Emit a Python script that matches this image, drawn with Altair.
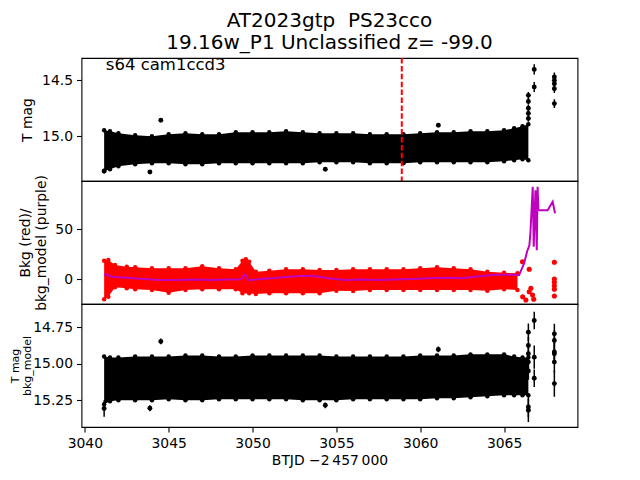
import altair as alt
import pandas as pd

# ---------------- values ----------------
# dense light-curve band (upper / lower envelope), days in BTJD-2457000
band_days = [3041.15, 3041.5, 3042, 3043, 3044, 3045, 3046, 3047, 3048, 3049, 3050,
             3051, 3052, 3053, 3054, 3055, 3056, 3057, 3058, 3059, 3060, 3061, 3062,
             3063, 3064, 3065, 3065.6, 3066.1, 3066.45]
tmag_hi = [14.946, 14.955, 14.973, 14.991, 15.000, 14.982, 14.973, 14.982, 14.982, 14.964,
           14.964, 14.964, 14.955, 14.964, 14.973, 14.973, 14.973, 14.982, 14.982, 14.982,
           14.973, 14.964, 14.964, 14.955, 14.955, 14.946, 14.929, 14.911, 14.893]
tmag_lo = [15.313, 15.295, 15.268, 15.250, 15.241, 15.241, 15.250, 15.250, 15.241, 15.241,
           15.241, 15.241, 15.241, 15.241, 15.232, 15.232, 15.232, 15.241, 15.241, 15.241,
           15.232, 15.232, 15.232, 15.232, 15.232, 15.223, 15.214, 15.205, 15.214]
diff_hi = [14.950, 14.957, 14.957, 14.950, 14.950, 14.950, 14.943, 14.943, 14.950, 14.950,
           14.943, 14.943, 14.943, 14.943, 14.943, 14.950, 14.950, 14.950, 14.950, 14.950,
           14.943, 14.943, 14.943, 14.936, 14.936, 14.936, 14.950, 14.957, 14.957]
diff_lo = [15.279, 15.258, 15.251, 15.251, 15.251, 15.245, 15.251, 15.251, 15.245, 15.245,
           15.245, 15.245, 15.245, 15.251, 15.251, 15.251, 15.245, 15.245, 15.245, 15.245,
           15.245, 15.238, 15.238, 15.231, 15.224, 15.217, 15.217, 15.217, 15.217]

# isolated points
pt_days = [3041.15, 3043.88, 3044.53, 3054.34, 3061.08,
           3066.45, 3066.45, 3066.45, 3066.45, 3066.45, 3066.8, 3066.8,
           3068.0, 3068.0, 3068.0, 3068.0, 3068.0]
pt_tmag = [15.310, 15.319, 14.857, 15.295, 14.902,
           14.634, 14.688, 14.750, 14.795, 14.840, 14.402, 14.560,
           14.470, 14.500, 14.530, 14.574, 14.708]
pt_tmag_err = [0.02, 0.01, 0.01, 0.01, 0.01,
               0.03, 0.03, 0.03, 0.03, 0.03, 0.045, 0.045,
               0.04, 0.04, 0.04, 0.04, 0.04]

pt3_days = [3041.15, 3043.88, 3044.53, 3054.34, 3061.08,
            3066.45, 3066.45, 3066.45, 3066.45, 3066.45, 3066.45, 3066.45,
            3066.8, 3066.8, 3066.8,
            3068.0, 3068.0, 3068.0, 3068.0, 3068.0, 3068.0]
pt3_mag = [15.308, 15.306, 14.847, 15.286, 14.902,
           14.784, 14.875, 14.932, 14.989, 15.050, 15.297, 15.320,
           14.703, 14.955, 15.100,
           14.795, 14.840, 14.920, 14.932, 14.989, 15.137]
pt3_err = [0.057, 0.02, 0.02, 0.02, 0.02,
           0.06, 0.06, 0.06, 0.06, 0.06, 0.07, 0.08,
           0.06, 0.08, 0.06,
           0.07, 0.07, 0.07, 0.07, 0.07, 0.09]

# background (red) band and loose red points
bkg_days = [3041.15, 3041.4, 3041.8, 3042.5, 3043, 3044, 3045, 3046, 3047, 3048, 3049,
            3049.4, 3049.6, 3049.8, 3050.2, 3051, 3052, 3053, 3054, 3055, 3056, 3057,
            3058, 3059, 3060, 3061, 3062, 3063, 3064, 3065, 3065.8]
bkg_hi = [18.6, 19.3, 14.3, 12.6, 12, 11, 11, 11, 13, 11, 10,
          18.6, 20, 17.6, 7.6, 8.6, 10, 10, 9.3, 9.3, 10, 10,
          10, 10, 11, 12, 11, 10, 7.6, 6.6, 6]
bkg_lo = [-20, -17.4, -8, -9, -10, -10.7, -13.4, -10.7, -10, -10, -10,
          -14, -12, -14, -14.7, -14, -14, -14, -14, -11.4, -11.7, -10.7,
          -10.7, -10.7, -10.7, -10.7, -10.7, -10.7, -11.4, -10, -10.7]
bkg_pt_days = [3066.1, 3066.5, 3066.11, 3066.3, 3066.5, 3066.6, 3066.7, 3066.77,
               3068.0, 3068.0, 3068.0, 3068.0, 3068.0, 3068.0]
bkg_pt_vals = [17.6, 10, -17.4, -20.7, -12.4, -9, -15.7, -20,
               17, 0.3, -3, -6.4, -10, -16.7]

# background model (purple line)
model_days = [3041.15, 3041.25, 3041.6, 3042.5, 3043.5, 3044.5, 3045.5, 3046.5, 3047.5,
              3048.5, 3049.3, 3049.55, 3049.75, 3050.5, 3051.5, 3052.5, 3053.5, 3054,
              3054.5, 3055.5, 3056.5, 3057.5, 3058.5, 3059.5, 3060.5, 3061.5, 3062.5,
              3063.5, 3064.5, 3065.5, 3065.9, 3066.2, 3066.37, 3066.51, 3066.57, 3066.71,
              3066.77, 3066.87, 3066.95, 3067.0, 3067.05, 3067.6, 3067.9, 3068.04]
model_vals = [4.3, 5, 2.6, 1.6, 0.3, -0.7, -0.7, -0.3, -0.7,
              -0.3, 0, 5, -1, 0.3, 1.6, 3, 3.5, 2.6,
              1, -0.7, -0.3, -0.7, -0.3, 0.3, 1, 1.6, 1,
              3, 4.6, 4.6, 4.3, 16, 27.6, 34, 46, 92.6,
              32.6, 89, 29, 92.6, 69, 69, 77.6, 66]

marker_day = [3058.9]
label_day = [3041.25]
label_mag = [14.411]
label_text = ["s64 cam1ccd3"]

x_ticks = [3040, 3045, 3050, 3055, 3060, 3065]

# ---------------- tables ----------------
band_df = pd.DataFrame({"day": band_days, "t_hi": tmag_hi, "t_lo": tmag_lo,
                        "d_hi": diff_hi, "d_lo": diff_lo})
pt_df = pd.DataFrame({"day": pt_days, "mag": pt_tmag, "err": pt_tmag_err})
pt_df["lo"] = pt_df["mag"] - pt_df["err"]
pt_df["hi"] = pt_df["mag"] + pt_df["err"]
pt3_df = pd.DataFrame({"day": pt3_days, "mag": pt3_mag, "err": pt3_err})
pt3_df["lo"] = pt3_df["mag"] - pt3_df["err"]
pt3_df["hi"] = pt3_df["mag"] + pt3_df["err"]
bkg_df = pd.DataFrame({"day": bkg_days, "hi": bkg_hi, "lo": bkg_lo})
bkg_pt_df = pd.DataFrame({"day": bkg_pt_days, "val": bkg_pt_vals})
model_df = pd.DataFrame({"day": model_days, "val": model_vals})
marker_df = pd.DataFrame({"day": marker_day})
label_df = pd.DataFrame({"day": label_day, "mag": label_mag, "text": label_text})

W, H = 496, 123
XDOM = [3039.8, 3069.38]
FONT = "DejaVu Sans"
BLACK, RED, PURPLE = "#000000", "#ff0000", "#bf00bf"


def xenc(show=False):
    if show:
        ax = alt.Axis(values=x_ticks, format="d", title="BTJD \u22122\u2009457\u2009000",
                      titlePadding=4, titleFontWeight="normal")
    else:
        ax = None
    return alt.X("day:Q", scale=alt.Scale(domain=XDOM, nice=False, zero=False), axis=ax)


def edge_dots(df, field, scale, color, show=False):
    return alt.Chart(df).mark_circle(color=color, size=20, opacity=1, clip=True).encode(
        x=xenc(show), y=alt.Y(f"{field}:Q", scale=scale))


# ---- panel 1 ----
s1 = alt.Scale(domain=[14.30, 15.40], reverse=True, nice=False, zero=False)
ax1 = alt.Axis(values=[14.5, 15.0], format=".1f", title="T mag", titleX=-54,
               titleBaseline="middle", titleFontWeight="normal")
p1_band = alt.Chart(band_df).mark_area(color=BLACK, clip=True).encode(
    x=xenc(), y=alt.Y("t_hi:Q", scale=s1, axis=ax1), y2="t_lo:Q")
p1_err = alt.Chart(pt_df).mark_rule(color=BLACK, strokeWidth=1.5, clip=True).encode(
    x=xenc(), y=alt.Y("lo:Q", scale=s1), y2="hi:Q")
p1_pts = alt.Chart(pt_df).mark_circle(color=BLACK, size=24, opacity=1, clip=True).encode(
    x=xenc(), y=alt.Y("mag:Q", scale=s1))
p1_vline = alt.Chart(marker_df).mark_rule(color=RED, strokeWidth=2, strokeDash=[5.5, 2.4]).encode(
    x=xenc())
p1_text = alt.Chart(label_df).mark_text(align="left", baseline="alphabetic", font=FONT,
                                        fontSize=16.5, color=BLACK).encode(
    x=xenc(), y=alt.Y("mag:Q", scale=s1), text="text:N")
panel1 = alt.layer(p1_band, edge_dots(band_df, "t_hi", s1, BLACK),
                   edge_dots(band_df, "t_lo", s1, BLACK),
                   p1_err, p1_pts, p1_vline, p1_text).properties(width=W, height=H)

# ---- panel 2 ----
s2 = alt.Scale(domain=[-24.7, 98.3], nice=False, zero=False)
ax2 = alt.Axis(values=[0, 50], format="d", title=["Bkg (red)/", "bkg_model (purple)"],
               titleX=-56, titleBaseline="middle", titleLineHeight=16,
               titleFontWeight="normal")
p2_band = alt.Chart(bkg_df).mark_area(color=RED, clip=True).encode(
    x=xenc(), y=alt.Y("hi:Q", scale=s2, axis=ax2), y2="lo:Q")
p2_pts = alt.Chart(bkg_pt_df).mark_circle(color=RED, size=26, opacity=1, clip=True).encode(
    x=xenc(), y=alt.Y("val:Q", scale=s2))
p2_line = alt.Chart(model_df).mark_line(color=PURPLE, strokeWidth=2, clip=True).encode(
    x=xenc(), y=alt.Y("val:Q", scale=s2))
panel2 = alt.layer(p2_band, edge_dots(bkg_df, "hi", s2, RED), edge_dots(bkg_df, "lo", s2, RED),
                   p2_pts, p2_line).properties(width=W, height=H)

# ---- panel 3 ----
s3 = alt.Scale(domain=[14.59, 15.435], reverse=True, nice=False, zero=False)
ax3 = alt.Axis(values=[14.75, 15.0, 15.25], format=".2f", title=["T mag", "bkg_model"],
               titleX=-66, titleBaseline="middle", titleLineHeight=11.5, titleFontSize=11,
               titleFontWeight="normal")
p3_band = alt.Chart(band_df).mark_area(color=BLACK, clip=True).encode(
    x=xenc(True), y=alt.Y("d_hi:Q", scale=s3, axis=ax3), y2="d_lo:Q")
p3_err = alt.Chart(pt3_df).mark_rule(color=BLACK, strokeWidth=1.5, clip=True).encode(
    x=xenc(True), y=alt.Y("lo:Q", scale=s3), y2="hi:Q")
p3_pts = alt.Chart(pt3_df).mark_circle(color=BLACK, size=24, opacity=1, clip=True).encode(
    x=xenc(True), y=alt.Y("mag:Q", scale=s3))
panel3 = alt.layer(p3_band, edge_dots(band_df, "d_hi", s3, BLACK, True),
                   edge_dots(band_df, "d_lo", s3, BLACK, True),
                   p3_err, p3_pts).properties(width=W, height=H)

chart = alt.vconcat(panel1, panel2, panel3, spacing=0, bounds="flush").properties(
    title=alt.TitleParams(text=["AT2023gtp\u00a0 PS23cco", "19.16w_P1 Unclassified z= -99.0"],
                          font=FONT, fontSize=20, fontWeight="normal", color=BLACK,
                          anchor="middle", frame="group", offset=3, lineHeight=22),
    padding={"left": 0.5, "top": 3, "right": 5, "bottom": 5},
    background="white",
).configure_view(stroke=BLACK, strokeWidth=1.1).configure_axis(
    labelFont=FONT, labelFontSize=13.9, labelColor=BLACK,
    titleFont=FONT, titleFontSize=13.9, titleFontWeight="normal", titleColor=BLACK,
    tickColor=BLACK, tickSize=5, tickWidth=1.1, labelPadding=4, domain=False, grid=False,
)

chart.save("out.html", embed_options={"renderer": "svg", "actions": False})
